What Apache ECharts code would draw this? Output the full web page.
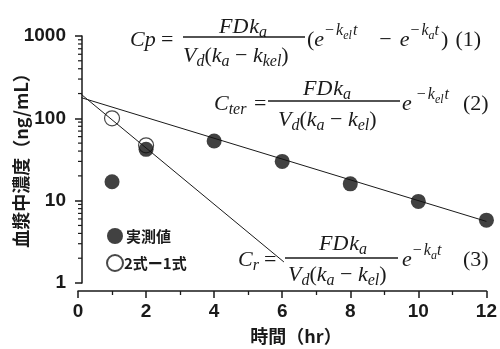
<!DOCTYPE html>
<html><head><meta charset="utf-8">
<script src="https://cdn.jsdelivr.net/npm/echarts@6/dist/echarts.min.js"></script>
<style>html,body{margin:0;padding:0;background:#fff}#c{width:500px;height:349px}</style>
</head><body><div id="c"></div>
<script>
// Time axis ticks (hr) and concentration decades (ng/mL)
const timeTicks = [0, 2, 4, 6, 8, 10, 12];
const concTicks = [1, 10, 100, 1000];
const minorConcTicks = [2,3,4,5,6,7,8,9,20,30,40,50,60,70,80,90,200,300,400,500,600,700,800,900];

// Measured plasma concentrations
const observedTime = [1, 2, 4, 6, 8, 10, 12];
const observedConc = [17, 42, 53, 30, 16, 9.8, 5.8];

// Residuals: equation (2) minus equation (1)
const residualTime = [1, 2];
const residualConc = [100, 47];

// Fitted straight lines on the semi-log plot
const terminalTime = [0.1, 12];
const terminalConc = [178, 5.6];
const absorptionTime = [0.1, 6.05];
const absorptionConc = [195, 1.8];

const legendNames = ['実測値', '2式ー1式'];

const Y_SHIFT = 4;   // y axis line sits a little right of t = 0
const LABEL_FONT = '"Liberation Sans", Arial, sans-serif';
const CJK_FONT = '"Noto Sans CJK JP", sans-serif';
const MATH_FONT = '"Liberation Serif", "DejaVu Serif", serif';
const INK = '#1a1a1a';

const zip = (a, b) => a.map((v, i) => [v, b[i]]);

// ---- equation layout helpers ----
const mctx = document.createElement('canvas').getContext('2d');
const F = 22, S = 16, SS = 12;
const STY = {
  r:      { size: F,  italic: false, dy: 0 },
  i:      { size: F,  italic: true,  dy: 0 },
  sub:    { size: S,  italic: true,  dy: 4 },
  sup:    { size: S,  italic: true,  dy: -11 },
  supr:   { size: S,  italic: false, dy: -11 },
  supsub: { size: SS, italic: true,  dy: -7 }
};
function fontOf(st) { return (st.italic ? 'italic ' : '') + st.size + 'px ' + MATH_FONT; }
function midOffset(st) {
  mctx.font = fontOf(st);
  mctx.textBaseline = 'middle';
  const m = mctx.measureText('x');
  const a = m.alphabeticBaseline;
  return (typeof a === 'number' && a !== 0) ? Math.abs(a) : 0.3 * st.size;
}
// Lays out a row of glyph runs; a bare number in the list is a gap in px.
function run(x, base, parts, out) {
  let cx = x;
  for (const part of parts) {
    if (typeof part === 'number') { cx += part; continue; }
    const [t, k] = part;
    const st = STY[k];
    mctx.font = fontOf(st);
    const wdt = mctx.measureText(t).width;
    out.push({
      type: 'text', x: cx, y: base + st.dy - midOffset(st), silent: true,
      style: { text: t, fill: INK, font: fontOf(st), align: 'left', verticalAlign: 'middle' }
    });
    cx += wdt;
  }
  return cx;
}
function bar(x1, x2, y, out) {
  out.push({ type: 'line', silent: true, shape: { x1, y1: y, x2, y2: y }, style: { stroke: INK, lineWidth: 1.3 } });
}
const denom = (sub) => [['V', 'i'], ['d', 'sub'], ['(', 'r'], ['k', 'i'], ['a', 'sub'], [' − ', 'r'], ['k', 'i'], [sub, 'sub'], [')', 'r']];
const numer = [['FD', 'i'], 1, ['k', 'i'], ['a', 'sub']];

const eq = [];
// (1) Cp = FDka / Vd(ka - kkel) (e^-kel t - e^-ka t)
run(130, 46, [['Cp', 'i']], eq);
run(161, 46, [['=', 'r']], eq);
run(219, 33, numer, eq);
bar(183, 305, 37, eq);
run(183, 62, denom('kel'), eq);
run(307, 46, [['(', 'r'], ['e', 'i'], 1, ['−', 'supr'], 2, ['k', 'sup'], ['el', 'supsub'], 1, ['t', 'sup'],
  22, ['−', 'r'], 8, ['e', 'i'], 1, ['−', 'supr'], 2, ['k', 'sup'], ['a', 'supsub'], ['t', 'sup'],
  2, [')', 'r'], 7, ['(1)', 'r']], eq);
// (2) Cter = FDka / Vd(ka - kel) e^-kel t
run(214, 110, [['C', 'i'], ['ter', 'sub']], eq);
run(254, 110, [['=', 'r']], eq);
run(303, 95, numer, eq);
bar(268, 400, 101, eq);
run(278, 126, denom('el'), eq);
run(402, 110, [['e', 'i'], 5, ['−', 'supr'], 2, ['k', 'sup'], ['el', 'supsub'], 1, ['t', 'sup']], eq);
run(463, 110, [['(2)', 'r']], eq);
// (3) Cr = FDka / Vd(ka - kel) e^-ka t
run(238, 266, [['C', 'i'], ['r', 'sub']], eq);
run(264, 266, [['=', 'r']], eq);
run(319, 250, numer, eq);
bar(285, 398, 258, eq);
run(288, 281, denom('el'), eq);
run(402, 266, [['e', 'i'], 1, ['−', 'supr'], 2, ['k', 'sup'], ['a', 'supsub'], ['t', 'sup']], eq);
run(463, 266, [['(3)', 'r']], eq);

const chart = echarts.init(document.getElementById('c'), null, { renderer: 'canvas' });
chart.setOption({
  animation: false,
  backgroundColor: '#fff',
  grid: { left: 78, right: 10, top: 36, bottom: 66 },
  legend: {
    orient: 'vertical', left: 101, top: 223,
    itemWidth: 16, itemHeight: 16, itemGap: 10,
    data: [
      { name: legendNames[0], icon: 'circle' },
      { name: legendNames[1], icon: 'circle', textStyle: { padding: [0, 0, 0, -4] } }
    ],
    textStyle: { fontFamily: CJK_FONT, fontWeight: 'bold', fontSize: 15, color: INK, padding: [0, 0, 0, -2] }
  },
  xAxis: {
    type: 'value', min: timeTicks[0], max: timeTicks[timeTicks.length - 1], interval: 2,
    offset: 8,
    axisLine: { lineStyle: { color: INK, width: 1.5 } },
    axisTick: { show: true, length: 7, lineStyle: { color: INK, width: 1.5 } },
    minorTick: { show: true, splitNumber: 2, length: 4, lineStyle: { color: INK, width: 1.3 } },
    splitLine: { show: false },
    axisLabel: { margin: 11, fontFamily: LABEL_FONT, fontWeight: 'bold', fontSize: 19, color: INK }
  },
  yAxis: {
    type: 'log', logBase: 10, min: concTicks[0], max: concTicks[concTicks.length - 1],
    offset: -Y_SHIFT,
    axisLine: { show: true, lineStyle: { color: INK, width: 1.5 } },
    axisTick: { show: true, length: 7, lineStyle: { color: INK, width: 1.5 } },
    splitLine: { show: false },
    axisLabel: { margin: 16, fontFamily: LABEL_FONT, fontWeight: 'bold', fontSize: 19, color: INK,
      formatter: v => String(v) }
  },
  graphic: [
    { type: 'text', x: 296, y: 336, silent: true,
      style: { text: '時間（hr）', font: 'bold 18px ' + CJK_FONT, fill: INK, align: 'center', verticalAlign: 'middle' } },
    { type: 'text', x: 21, y: 156, rotation: Math.PI / 2, silent: true,
      style: { text: '血漿中濃度（ng/mL）', font: 'bold 18px ' + CJK_FONT, fill: INK, align: 'center', verticalAlign: 'middle' } }
  ].concat(eq),
  series: [
    {
      type: 'custom', silent: true, clip: false, z: 5,
      data: minorConcTicks.map(v => [0, v]),
      renderItem(params, api) {
        const p = api.coord([0, api.value(1)]);
        return { type: 'line', shape: { x1: p[0] + Y_SHIFT - 4, y1: p[1], x2: p[0] + Y_SHIFT, y2: p[1] },
          style: { stroke: INK, lineWidth: 1.2 } };
      }
    },
    { name: legendNames[1], type: 'scatter', z: 2, symbol: 'circle', symbolSize: 15,
      itemStyle: { color: '#fff', borderColor: INK, borderWidth: 1.2 },
      data: zip(residualTime, residualConc) },
    { type: 'line', z: 3, symbol: 'none', silent: true, lineStyle: { color: INK, width: 1 },
      data: zip(terminalTime, terminalConc) },
    { type: 'line', z: 3, symbol: 'none', silent: true, lineStyle: { color: INK, width: 1 },
      data: zip(absorptionTime, absorptionConc) },
    { name: legendNames[0], type: 'scatter', z: 4, symbol: 'circle', symbolSize: 15,
      itemStyle: { color: '#111' },
      data: zip(observedTime, observedConc) }
  ]
});
</script></body></html>
